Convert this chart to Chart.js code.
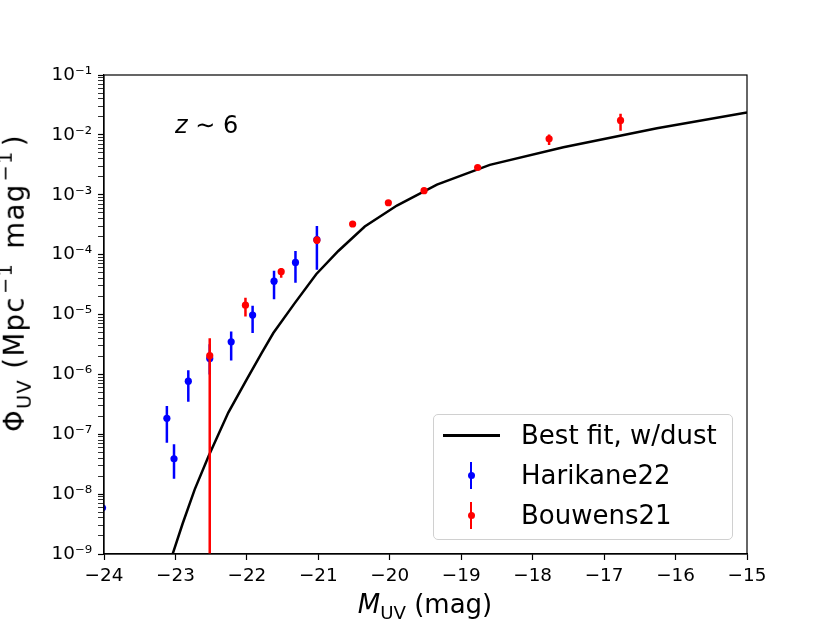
<!DOCTYPE html>
<html>
<head>
<meta charset="utf-8">
<script src="https://cdn.jsdelivr.net/npm/chart.js@4.4.1/dist/chart.umd.min.js"></script>
<style>
  html, body { margin: 0; padding: 0; background: #fff; }
  #wrap { position: relative; width: 830px; height: 623px; font-family: 'DejaVu Sans', sans-serif; color: #000; overflow: hidden; }
  #chart { position: absolute; left: 0; top: 0; }
  .txt { position: absolute; white-space: nowrap; font-size: 26px; line-height: 26px; }
  .sub { font-size: 70%; position: relative; top: 0.35em; }
  .sup { font-size: 70%; position: relative; top: -0.6em; }
  #ytitle { left: 16px; top: 283px; font-size: 27.5px; line-height: 27.5px; letter-spacing: 1.4px;
            transform: translate(-50%, -50%) rotate(-90deg); }
  #ytitle .sup { margin: 0 4px 0 2px; }
  #xtitle { left: 425px; top: 591px; transform: translateX(-50%); }
  #zlabel { left: 175px; top: 113px; font-size: 24px; line-height: 24px; }
  #legend { position: absolute; left: 433px; top: 414px; width: 298px; height: 124px;
            border: 1px solid #d0d0d0; border-radius: 5px; background: rgba(255,255,255,0.8); }
  .row { position: absolute; left: 0; height: 40px; width: 100%; }
  .row .name { position: absolute; left: 87px; top: 7px; font-size: 26px; line-height: 26px; white-space: nowrap; }
  .fitline { position: absolute; left: 9px; top: 19px; width: 57px; height: 2.5px; background: #000; }
  .ebar { position: absolute; left: 35.5px; top: 7px; width: 2.5px; height: 27px; }
  .edot { position: absolute; left: 33.5px; top: 17px; width: 7px; height: 7px; border-radius: 50%; }
</style>
</head>
<body>
<div id="wrap">
  <canvas id="chart" width="830" height="623"></canvas>
  <div class="txt" id="ytitle">&Phi;<span class="sub">UV</span> (Mpc<span class="sup">&minus;1</span> mag<span class="sup">&minus;1</span>)</div>
  <div class="txt" id="xtitle"><i>M</i><span class="sub">UV</span> (mag)</div>
  <div class="txt" id="zlabel"><i>z</i> &sim; 6</div>
  <div id="legend">
    <div class="row" style="top:0px"><div class="fitline"></div><div class="name">Best fit, w/dust</div></div>
    <div class="row" style="top:40px"><div class="ebar" style="background:#0000ff"></div><div class="edot" style="background:#0000ff"></div><div class="name">Harikane22</div></div>
    <div class="row" style="top:80px"><div class="ebar" style="background:#ff0000"></div><div class="edot" style="background:#ff0000"></div><div class="name">Bouwens21</div></div>
  </div>
</div>
<script>
// best-fit model curve (with dust)
const fitM = [-23.1, -22.9, -22.73, -22.54, -22.26, -22.0, -21.79, -21.63, -21.33, -21.03, -20.72, -20.35, -19.9, -19.34, -18.6, -17.57, -16.26, -15.0];
const fitPhi = [6.0e-10, 3.2e-9, 1.2e-8, 4.2e-8, 2.3e-7, 8.3e-7, 2.3e-6, 4.9e-6, 1.55e-5, 4.7e-5, 1.15e-4, 2.95e-4, 6.6e-4, 1.48e-3, 3.16e-3, 6.2e-3, 1.29e-2, 2.36e-2];

// Harikane22
const harM = [-24.02, -23.12, -23.02, -22.82, -22.52, -22.22, -21.92, -21.62, -21.32, -21.02];
const harPhi = [5.9e-9, 1.85e-7, 3.9e-8, 7.7e-7, 1.85e-6, 3.5e-6, 9.8e-6, 3.6e-5, 7.4e-5, 1.78e-4];
const harLo = [3.0e-9, 7.2e-8, 1.8e-8, 3.5e-7, 1.0e-6, 1.7e-6, 4.9e-6, 1.8e-5, 3.4e-5, 5.6e-5];
const harHi = [1.1e-8, 2.95e-7, 6.8e-8, 1.17e-6, 3.2e-6, 5.2e-6, 1.4e-5, 5.4e-5, 1.15e-4, 3.0e-4];

// Bouwens21
const bouM = [-22.52, -22.02, -21.52, -21.02, -20.52, -20.02, -19.52, -18.77, -17.77, -16.77];
const bouPhi = [2.05e-6, 1.43e-5, 5.2e-5, 1.74e-4, 3.25e-4, 7.35e-4, 1.17e-3, 2.85e-3, 8.6e-3, 1.74e-2];
const bouLo = [1e-12, 9.3e-6, 4.1e-5, 1.5e-4, 3.0e-4, 6.8e-4, 1.1e-3, 2.65e-3, 6.8e-3, 1.17e-2];
const bouHi = [4.0e-6, 1.9e-5, 6.0e-5, 2.0e-4, 3.5e-4, 7.9e-4, 1.25e-3, 3.05e-3, 1.01e-2, 2.26e-2];

// axis ticks
const xTicks = [-24, -23, -22, -21, -20, -19, -18, -17, -16, -15];
const yMajor = [1e-9, 1e-8, 1e-7, 1e-6, 1e-5, 1e-4, 1e-3, 1e-2, 1e-1];
const yMinorMult = [2, 3, 4, 5, 6, 7, 8, 9];

const supDigits = { '0': '\u2070', '1': '\u00B9', '2': '\u00B2', '3': '\u00B3', '4': '\u2074',
  '5': '\u2075', '6': '\u2076', '7': '\u2077', '8': '\u2078', '9': '\u2079', '-': '\u207B' };

const toPoints = (xs, ys) => xs.map((x, i) => ({ x: x, y: ys[i] }));
const errSegments = (xs, lo, hi) => {
    const out = [];
    xs.forEach((x, i) => {
        out.push({ x: x, y: lo[i] }, { x: x, y: hi[i] }, { x: x, y: null });
    });
    return out;
};

const frame = {
    id: 'frame',
    afterDraw(chart) {
        const { ctx, chartArea: a } = chart;
        ctx.save();
        ctx.strokeStyle = '#000';
        ctx.lineWidth = 1.2;
        ctx.strokeRect(a.left, a.top, a.right - a.left, a.bottom - a.top);
        ctx.restore();
    }
};

const isMajor = v => Math.abs(Math.log10(v) - Math.round(Math.log10(v))) < 1e-6;

new Chart(document.getElementById('chart'), {
    type: 'line',
    data: {
        datasets: [
            { label: 'Bouwens21', data: toPoints(bouM, bouPhi), showLine: false, pointRadius: 3.6,
              pointBackgroundColor: '#ff0000', pointBorderWidth: 0, order: 1, clip: 0 },
            { label: 'Bouwens21 err', data: errSegments(bouM, bouLo, bouHi), borderColor: '#ff0000',
              borderWidth: 2.5, pointRadius: 0, spanGaps: false, order: 2, clip: 0 },
            { label: 'Harikane22', data: toPoints(harM, harPhi), showLine: false, pointRadius: 3.6,
              pointBackgroundColor: '#0000ff', pointBorderWidth: 0, order: 3, clip: 0 },
            { label: 'Harikane22 err', data: errSegments(harM, harLo, harHi), borderColor: '#0000ff',
              borderWidth: 2.5, pointRadius: 0, spanGaps: false, order: 4, clip: 0 },
            { label: 'Best fit, w/dust', data: toPoints(fitM, fitPhi), borderColor: '#000',
              borderWidth: 2.5, pointRadius: 0, tension: 0, order: 5, clip: 0 }
        ]
    },
    options: {
        responsive: false,
        animation: false,
        devicePixelRatio: 1,
        layout: { padding: { left: 0, top: 75, right: 83, bottom: 0 } },
        plugins: { legend: { display: false }, tooltip: { enabled: false } },
        scales: {
            x: {
                type: 'linear',
                min: -24,
                max: -15,
                afterBuildTicks: scale => { scale.ticks = xTicks.map(v => ({ value: v })); },
                afterFit: scale => { scale.height = 69; },
                border: { color: '#000', width: 1.2 },
                grid: { drawOnChartArea: false, tickLength: 6, tickColor: '#000', tickWidth: 1.2 },
                ticks: {
                    color: '#000',
                    padding: 5,
                    font: { family: 'DejaVu Sans', size: 18.4 },
                    autoSkip: false,
                    maxRotation: 0,
                    callback: v => (v < 0 ? '\u2212' + Math.abs(v) : String(v))
                }
            },
            y: {
                type: 'logarithmic',
                min: 1e-9,
                max: 1e-1,
                afterBuildTicks: scale => {
                    const t = [];
                    yMajor.forEach(m => {
                        t.push({ value: m, major: true });
                        if (m < 1e-1) yMinorMult.forEach(k => t.push({ value: m * k, major: false }));
                    });
                    scale.ticks = t;
                },
                afterFit: scale => { scale.width = 104; },
                border: { color: '#000', width: 1.2 },
                grid: {
                    drawOnChartArea: false,
                    tickLength: 6,
                    tickColor: '#000',
                    tickWidth: c => (c.tick && isMajor(c.tick.value) ? 1.2 : 0.8)
                },
                ticks: {
                    color: '#000',
                    padding: 6,
                    font: { family: 'DejaVu Sans', size: 18.4 },
                    autoSkip: false,
                    callback: v => {
                        if (!isMajor(v)) return '';
                        const e = String(Math.round(Math.log10(v)));
                        return '10' + e.split('').map(ch => supDigits[ch]).join('');
                    }
                }
            }
        }
    },
    plugins: [frame]
});
</script>
</body>
</html>
